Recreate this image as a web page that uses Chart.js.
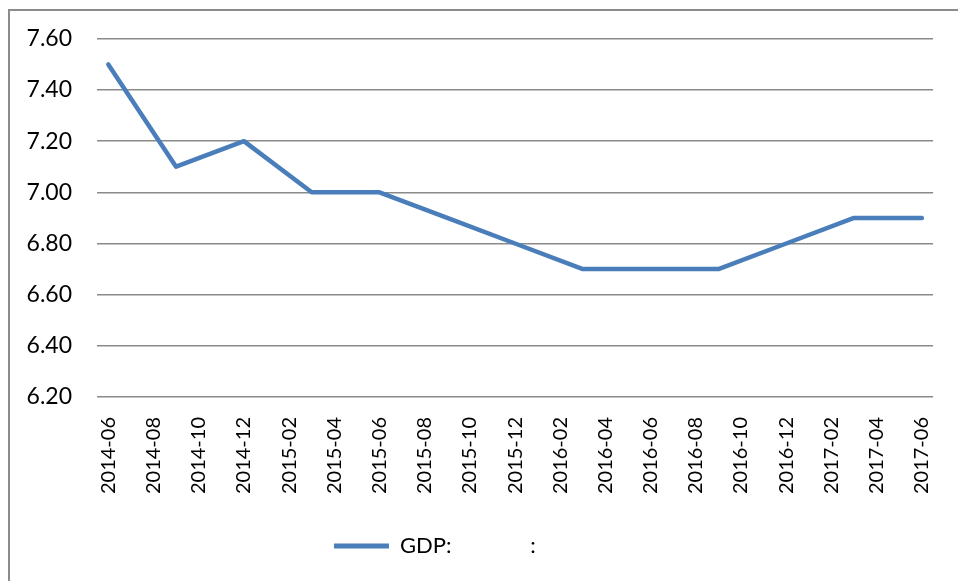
<!DOCTYPE html>
<html>
<head>
<meta charset="utf-8">
<script src="https://cdn.jsdelivr.net/npm/chart.js@4/dist/chart.umd.min.js"></script>
<style>
  html, body { margin: 0; padding: 0; background: #fff; overflow: hidden; }
  #wrap { position: relative; width: 958px; height: 581px; }
  #frame {
    position: absolute; left: 8px; top: 9px; width: 1000px; height: 600px;
    border-left: 2px solid #8c8c8c; border-top: 2px solid #8c8c8c;
    pointer-events: none;
  }
</style>
</head>
<body>
<div id="wrap">
  <canvas id="gdpChart" width="958" height="581"></canvas>
  <div id="frame"></div>
</div>
<script>
// quarterly GDP readings, placed on a monthly axis
const quarters = ['2014-06', '2014-09', '2014-12', '2015-03', '2015-06', '2015-09', '2015-12',
                  '2016-03', '2016-06', '2016-09', '2016-12', '2017-03', '2017-06'];
const gdpValues = [7.5, 7.1, 7.2, 7.0, 7.0, 6.9, 6.8, 6.7, 6.7, 6.7, 6.8, 6.9, 6.9];
const yTicks = [6.2, 6.4, 6.6, 6.8, 7.0, 7.2, 7.4, 7.6];
const legendText = 'GDP:              :             ';

const FONT = 'Lato';

function monthLabels(start, end) {
    const out = [];
    let [y, m] = start.split('-').map(Number);
    const [ey, em] = end.split('-').map(Number);
    while (y < ey || (y === ey && m <= em)) {
        out.push(`${y}-${String(m).padStart(2, '0')}`);
        m++;
        if (m > 12) { m = 1; y++; }
    }
    return out;
}

const labels = monthLabels('2014-06', '2017-06');
const series = labels.map(l => {
    const i = quarters.indexOf(l);
    return i >= 0 ? gdpValues[i] : null;
});

function draw() {
    const ctx = document.getElementById('gdpChart').getContext('2d');
    new Chart(ctx, {
        type: 'line',
        data: {
            labels,
            datasets: [{
                label: legendText,
                data: series,
                borderColor: '#4a7ebb',
                backgroundColor: '#4a7ebb',
                borderWidth: 4.5,
                borderCapStyle: 'round',
                borderJoinStyle: 'round',
                pointRadius: 0,
                tension: 0,
                spanGaps: true,
            }]
        },
        options: {
            responsive: false,
            animation: false,
            layout: { padding: { top: 38, right: 15, left: 0, bottom: 14 } },
            plugins: {
                tooltip: { enabled: false },
                legend: {
                    position: 'bottom',
                    labels: {
                        font: { family: FONT, size: 22 },
                        color: '#000',
                        boxWidth: 55,
                        boxHeight: 5,
                        useBorderRadius: true,
                        borderRadius: 2.5,
                        padding: 10,
                        generateLabels: () => [{
                            text: legendText,
                            fillStyle: '#4a7ebb',
                            strokeStyle: '#4a7ebb',
                            lineWidth: 0,
                            hidden: false,
                            datasetIndex: 0,
                        }]
                    }
                }
            },
            scales: {
                x: {
                    offset: true,
                    grid: { display: false },
                    border: { display: false },
                    afterFit: s => { s.height = 128; },
                    ticks: {
                        autoSkip: false,
                        minRotation: 90,
                        maxRotation: 90,
                        padding: 12,
                        color: '#000',
                        font: { family: FONT, size: 20 },
                        callback: function (v, i) { return i % 2 === 0 ? this.getLabelForValue(v) : ''; }
                    }
                },
                y: {
                    min: yTicks[0],
                    max: yTicks[yTicks.length - 1],
                    afterBuildTicks: s => { s.ticks = yTicks.map(v => ({ value: v })); },
                    afterFit: s => { s.width = 97; },
                    grid: { color: '#8a8a8a', lineWidth: 1.5, drawTicks: false },
                    border: { display: false },
                    ticks: {
                        padding: 25,
                        color: '#000',
                        font: { family: FONT, size: 23 },
                        callback: v => v.toFixed(2)
                    }
                }
            }
        }
    });
}

Promise.all([
    document.fonts.load(`20px ${FONT}`),
    document.fonts.load(`23px ${FONT}`)
]).then(draw, draw);
</script>
</body>
</html>
